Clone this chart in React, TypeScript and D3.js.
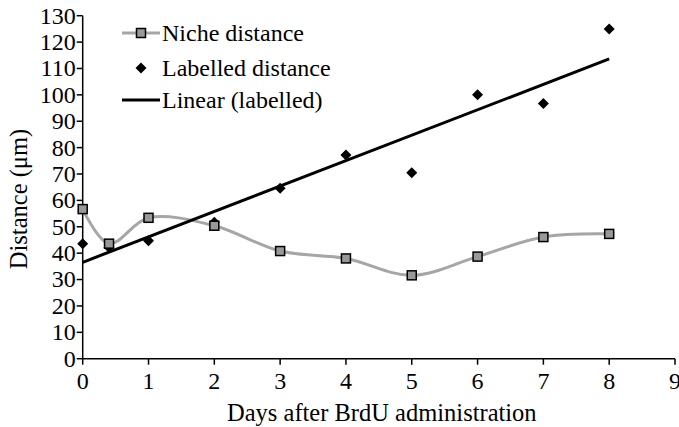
import React from 'react'
import * as d3 from 'd3'

// values
const days = [0, 0.4, 1, 2, 3, 4, 5, 6, 7, 8]
const nicheDistance = [56.7, 43.6, 53.4, 50.4, 40.8, 38.0, 31.6, 38.7, 46.1, 47.3]
const labelledDistance = [43.6, 42.1, 44.7, 51.7, 64.6, 77.2, 70.5, 100, 96.7, 125]
const xTicks = [0, 1, 2, 3, 4, 5, 6, 7, 8, 9]
const yTicks = [0, 10, 20, 30, 40, 50, 60, 70, 80, 90, 100, 110, 120, 130]
const legendLabels = ['Niche distance', 'Labelled distance', 'Linear (labelled)']

const W = 679
const H = 427
const margin = { top: 15.7, right: 4, bottom: 68.3, left: 82.7 }
const FONT = "'Liberation Serif', 'DejaVu Serif', serif"
const FS = 24
const TITLE_FS = 24.5

// least squares fit, like Excel's linear trendline
const fit = (xs: number[], ys: number[]) => {
  const mx = d3.mean(xs)!
  const my = d3.mean(ys)!
  let sxy = 0
  let sxx = 0
  xs.forEach((x, i) => {
    sxy += (x - mx) * (ys[i] - my)
    sxx += (x - mx) * (x - mx)
  })
  const slope = sxy / sxx
  return { slope, intercept: my - slope * mx }
}

const Diamond = ({ cx, cy, r = 5.5 }: { cx: number; cy: number; r?: number }) => (
  <path d={`M${cx},${cy - r}L${cx + r},${cy}L${cx},${cy + r}L${cx - r},${cy}Z`} fill="#000" />
)

const Square = ({ cx, cy, s = 9 }: { cx: number; cy: number; s?: number }) => (
  <rect x={cx - s / 2} y={cy - s / 2} width={s} height={s} fill="#999" stroke="#000" strokeWidth={1.5} />
)

const txt = { fontFamily: FONT, fill: '#000' }

export default function App() {
  const x = d3.scaleLinear().domain([0, 9]).range([margin.left, W - margin.right])
  const y = d3.scaleLinear().domain([0, 130]).range([H - margin.bottom, margin.top])
  const x0 = x(0)
  const y0 = y(0)

  const nichePts: [number, number][] = days.map((d, i) => [x(d), y(nicheDistance[i])])
  const nichePath = d3.line().curve(d3.curveCatmullRom.alpha(0.5))(nichePts) || ''

  const { slope, intercept } = fit(days, labelledDistance)
  const xMin = d3.min(days)!
  const xMax = d3.max(days)!
  const trend = d3.line()([
    [x(xMin), y(intercept + slope * xMin)],
    [x(xMax), y(intercept + slope * xMax)],
  ]) || ''

  const lgX = 122
  const lgY = [33, 68, 100]

  return (
    <div style={{ position: 'absolute', left: 0, top: 0 }}>
      <svg width={W} height={H} style={{ display: 'block', background: '#fff' }}>
        {/* axes */}
        <line x1={x0} x2={x(9)} y1={y0} y2={y0} stroke="#000" strokeWidth={1.5} />
        <line x1={x0} x2={x0} y1={y0} y2={y(130)} stroke="#000" strokeWidth={1.5} />
        {xTicks.map(t => (
          <g key={'x' + t}>
            <line x1={x(t)} x2={x(t)} y1={y0} y2={y0 + 6} stroke="#000" strokeWidth={1.5} />
            <text x={x(t)} y={y0 + 30} textAnchor="middle" fontSize={FS} style={txt}>{t}</text>
          </g>
        ))}
        {yTicks.map(t => (
          <g key={'y' + t}>
            <line x1={x0 - 6} x2={x0} y1={y(t)} y2={y(t)} stroke="#000" strokeWidth={1.5} />
            <text x={x0 - 7} y={y(t)} dy="0.33em" textAnchor="end" fontSize={FS} style={txt}>{t}</text>
          </g>
        ))}
        <text x={(x0 + x(9)) / 2 + 3} y={421} textAnchor="middle" fontSize={TITLE_FS} style={txt}>
          Days after BrdU administration
        </text>
        <text transform="translate(27,199) rotate(-90)" textAnchor="middle" fontSize={TITLE_FS} style={txt}>
          Distance (μm)
        </text>

        {/* series */}
        <path d={nichePath} fill="none" stroke="#a6a6a6" strokeWidth={3} />
        <path d={trend} fill="none" stroke="#000" strokeWidth={3} />
        {labelledDistance.map((v, i) => (
          <Diamond key={'d' + i} cx={x(days[i])} cy={y(v)} />
        ))}
        {nicheDistance.map((v, i) => (
          <Square key={'s' + i} cx={x(days[i])} cy={y(v)} />
        ))}

        {/* legend */}
        <line x1={lgX} x2={lgX + 38} y1={lgY[0]} y2={lgY[0]} stroke="#a6a6a6" strokeWidth={3} />
        <Square cx={lgX + 19} cy={lgY[0]} />
        <Diamond cx={lgX + 19} cy={lgY[1]} />
        <line x1={lgX} x2={lgX + 38} y1={lgY[2]} y2={lgY[2]} stroke="#000" strokeWidth={3} />
        {legendLabels.map((l, i) => (
          <text key={l} x={lgX + 40} y={lgY[i]} dy="0.33em" fontSize={FS} style={txt}>{l}</text>
        ))}
      </svg>
    </div>
  )
}
